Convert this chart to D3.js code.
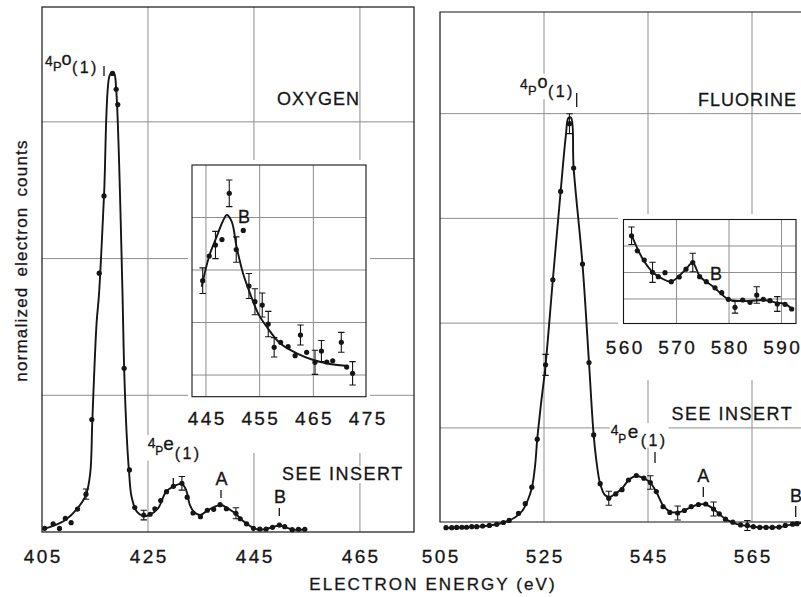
<!DOCTYPE html>
<html><head><meta charset="utf-8">
<script src="https://cdn.jsdelivr.net/npm/d3@7"></script>
<style>
body{margin:0;background:#fff}
svg{display:block}
text{font-family:"Liberation Sans",Arial,Helvetica,sans-serif;fill:#151515;stroke:#151515;stroke-width:0.3}
</style></head><body>
<svg id="chart" width="801" height="597"></svg>
<script>
// ---------------- DATA ----------------
// Oxygen main spectrum (energy eV, normalized counts in grid units)
const oxygenEnergy = [405.5,407.1,408.3,409.4,410.5,411.7,413.3,414.4,415.8,416.7,418.3,419.0,419.3,420.5,421.5,422.5,424.2,425.4,426.3,427.4,428.5,429.8,431.4,432.4,433.5,434.9,436.2,437.4,438.6,439.8,441.6,442.4,443.6,444.9,446.1,447.3,448.5,449.8,450.8,452.2,453.4,454.6];
const oxygenCounts = [0.027,0.060,0.026,0.099,0.068,0.168,0.277,0.822,1.893,2.458,3.354,3.238,3.126,1.197,0.454,0.179,0.124,0.130,0.170,0.230,0.295,0.334,0.356,0.255,0.139,0.112,0.159,0.166,0.200,0.170,0.137,0.097,0.060,0.027,0.022,0.022,0.034,0.051,0.039,0.017,0.020,0.020];
const oxygenError = [0,0,0,0,0,0,0.037,0,0,0, 0,0,0,0,0,0,0.035,0,0,0, 0,0,0.05,0,0,0,0,0,0,0, 0.04,0,0,0,0,0,0,0,0,0, 0,0];
const oxygenFitEnergy = [405.2,407.1,409.4,411.7,413.3,414.1,414.5,415.3,415.75,416.7,417.7,418.15,418.6,419.0,420.2,420.5,421.0,421.4,421.9,422.9,424.1,425.2,426.9,428.4,429.9,431.4,432.2,432.9,433.7,434.8,436.1,437.5,438.8,439.9,441.6,442.5,443.7,445.0,446.1,447.3,448.6,449.7,450.8,452.2,454.6];
const oxygenFitCounts = [0.022,0.044,0.088,0.173,0.271,0.429,0.819,1.529,1.734,2.458,3.331,3.360,3.356,3.238,1.734,1.197,0.697,0.454,0.258,0.149,0.117,0.124,0.173,0.293,0.336,0.351,0.307,0.198,0.146,0.124,0.154,0.183,0.198,0.176,0.132,0.095,0.059,0.026,0.018,0.022,0.037,0.048,0.037,0.018,0.018];

// Oxygen insert (region B, magnified)
const oxygenInsetEnergy = [444.39,445.61,446.77,447.98,449.34,450.64,451.95,453.0,454.12,455.48,456.6,457.7,458.9,460.3,461.6,462.6,463.75,465.3,466.5,467.5,468.6,470.2,471.2,472.3];
const oxygenInsetCounts = [2.796,3.267,3.476,3.579,4.461,3.389,3.754,2.695,2.396,2.333,1.971,1.528,1.623,1.539,1.368,1.762,1.432,1.242,1.457,1.248,1.272,1.623,1.152,1.032];
const oxygenInsetError = [0.244,0,0.26,0,0.253,0.242,0,0.238,0.248,0.229,0.242,0.185,0,0,0,0.19,0,0.229,0.2,0,0,0.19,0,0.223];
const oxygenInsetFitEnergy = [444.2,445.61,447.0,448.1,448.9,449.8,450.7,451.9,453.2,454.7,456.3,458.8,461.9,465.0,468.1,471.5];
const oxygenInsetFitCounts = [2.682,3.267,3.634,3.92,4.048,3.92,3.444,2.937,2.556,2.175,1.92,1.604,1.413,1.286,1.21,1.171];

// Fluorine main spectrum
const fluorineEnergy = [506.15,507.25,508.2,509.2,510.1,511.1,512.05,513.2,514.5,515.9,517.2,518.3,520.1,521.4,522.65,523.7,525.3,526.7,528.2,529.9,530.7,532.4,533.65,534.55,535.8,537.45,538.8,540.0,541.25,542.75,544.2,545.45,546.6,547.9,549.2,550.7,552.0,553.3,554.7,556.1,557.6,558.7,559.9,561.3,562.8,564.1,565.25,566.5,567.7,568.9,570.2,571.4,572.8,573.65];
const fluorineCounts = [0.048,0.048,0.050,0.052,0.052,0.057,0.057,0.064,0.069,0.080,0.097,0.117,0.185,0.277,0.434,0.893,1.602,2.414,3.257,3.904,3.48,2.564,1.624,0.933,0.468,0.329,0.370,0.411,0.503,0.546,0.520,0.479,0.392,0.248,0.193,0.188,0.212,0.248,0.269,0.274,0.226,0.179,0.129,0.100,0.074,0.069,0.057,0.050,0.050,0.050,0.054,0.069,0.081,0.086];
const fluorineError = [0,0,0,0,0,0,0,0,0,0, 0,0,0,0,0,0,0.1,0,0,0.095, 0,0,0,0,0,0.067,0,0,0,0, 0,0.064,0,0,0,0.067,0,0,0,0, 0.067,0,0,0,0,0.048,0,0,0,0, 0,0,0,0];
const fluorineFitEnergy = [506.15,510.8,514.6,517.5,519.4,520.8,521.9,522.7,523.3,523.7,524.4,525.3,526.7,528.2,529.2,529.7,530.2,530.7,532.4,533.65,534.55,535.2,535.8,536.7,537.7,538.8,540.0,541.3,542.7,544.1,545.45,546.6,547.9,549.2,550.7,552.0,553.3,554.7,556.1,557.6,558.7,559.9,561.3,562.8,565.2,568.5,570.4,572.3,574.4];
const fluorineFitCounts = [0.045,0.054,0.069,0.102,0.145,0.207,0.312,0.436,0.647,0.893,1.22,1.602,2.414,3.257,3.79,3.96,3.96,3.48,2.564,1.624,0.933,0.637,0.468,0.36,0.341,0.374,0.422,0.503,0.541,0.522,0.475,0.389,0.26,0.202,0.193,0.212,0.245,0.269,0.269,0.226,0.179,0.129,0.097,0.074,0.057,0.050,0.054,0.074,0.093];

// Fluorine insert
const fluorineInsetEnergy = [561.43,562.53,563.85,565.43,566.53,567.81,569.0,570.51,571.81,573.09,574.4,575.68,577.33,578.61,579.87,581.14,582.61,584.0,585.28,586.53,587.81,589.2,590.67,591.94];
const fluorineInsetCounts = [3.385,2.819,2.472,2.008,1.842,1.992,1.653,1.83,2.125,2.377,1.842,1.653,1.423,1.238,0.989,0.687,0.962,0.875,1.151,0.989,0.936,0.811,0.8,0.623];
const fluorineInsetError = [0.33,0,0,0.38,0,0,0,0,0,0.35,0,0,0,0,0,0.22,0,0,0.31,0,0,0.28,0,0];
const fluorineInsetFitEnergy = [561.47,563.68,565.58,567.18,568.95,570.67,571.81,573.09,574.48,577.01,579.87,582.1,584.0,586.53,589.09,590.67,592.25];
const fluorineInsetFitCounts = [3.389,2.472,1.992,1.781,1.653,1.906,2.132,2.37,1.842,1.464,0.989,0.925,0.925,0.962,0.86,0.811,0.585];

// Tick labels / grid values
const oxygenTicks = [405,425,445,465];
const fluorineTicks = [505,525,545,565];
const oxygenInsetTicks = [445,455,465,475];
const fluorineInsetTicks = [560,570,580,590];
const mainGridLevels = [1,2,3,4];
const insetGridLevels = [1,2,3,4];

const xAxisTitle = "ELECTRON ENERGY (eV)";
const yAxisTitle = "normalized electron counts";

// ---------------- DRAWING ----------------
const svg = d3.select("#chart");
const GRID = "#8e8e8e";
const INK = "#151515";

function zip(E, V, Er){ return E.map((e,i)=>({e, v:V[i], err: Er ? Er[i] : 0})); }

function grid(g, x, y, xs, ys, box){
  xs.filter(t=>x(t)>box.x0+2 && x(t)<box.x1-2).forEach(t=>{
    g.append("line").attr("x1",x(t)).attr("x2",x(t)).attr("y1",box.y0).attr("y2",box.y1)
     .attr("stroke",GRID).attr("stroke-width",1);
  });
  ys.filter(v=>y(v)>box.y0+2 && y(v)<box.y1-2).forEach(v=>{
    g.append("line").attr("y1",y(v)).attr("y2",y(v)).attr("x1",box.x0).attr("x2",box.x1)
     .attr("stroke",GRID).attr("stroke-width",1);
  });
}

function series(g, x, y, pts, r, cap){
  const eb = pts.filter(d=>d.err>0);
  g.selectAll(null).data(eb).enter().append("path")
    .attr("d", d=>{
      const cx=x(d.e), y1=y(d.v+d.err), y2=y(d.v-d.err);
      return `M${cx},${y1}V${y2}M${cx-cap},${y1}H${cx+cap}M${cx-cap},${y2}H${cx+cap}`;
    })
    .attr("stroke",INK).attr("stroke-width",1.1).attr("fill","none");
  g.selectAll(null).data(pts).enter().append("circle")
    .attr("cx",d=>x(d.e)).attr("cy",d=>y(d.v)).attr("r",r).attr("fill",INK);
}

function fit(g, x, y, pts, w){
  const line = d3.line().x(d=>x(d.e)).y(d=>y(d.v)).curve(d3.curveCatmullRom.alpha(0.5));
  g.append("path").attr("d",line(pts)).attr("fill","none").attr("stroke",INK)
   .attr("stroke-width",w).attr("stroke-linejoin","round");
}

function tickLabels(g, x, ticks, baseline){
  g.selectAll(null).data(ticks).enter().append("text")
   .attr("x",d=>x(d)+1.2).attr("y",baseline).attr("text-anchor","middle")
   .attr("font-size",19).attr("letter-spacing",2.4).text(d=>d);
}

function backdrop(g, t, pad){
  const b = t.node().getBBox();
  g.insert("rect", function(){ return t.node(); })
   .attr("x",b.x-pad).attr("y",b.y+2).attr("width",b.width+2*pad).attr("height",b.height-3)
   .attr("fill","#fff");
}

function label(g, txt, x, yb, size, ls, anchor, bg){
  const t = g.append("text").attr("x",x).attr("y",yb).attr("font-size",size)
    .attr("letter-spacing",ls).attr("text-anchor",anchor||"start").text(txt);
  if(bg) backdrop(g, t, 2);
  return t;
}

function marker(g, x, y1, y2){
  g.append("line").attr("x1",x).attr("x2",x).attr("y1",y1).attr("y2",y2)
   .attr("stroke",INK).attr("stroke-width",1.3);
}

// term label like  4P°(1)  or 4Pe(1)
function term(g, x0, yb, sup, o){
  const t = g.append("text");
  t.append("tspan").attr("x",x0).attr("y",yb+o.d4).attr("font-size",14).text("4");
  t.append("tspan").attr("x",x0+o.xp).attr("y",yb).attr("font-size",o.sp).text("P");
  t.append("tspan").attr("x",x0+o.xs).attr("y",yb+o.ds).attr("font-size",o.ss).text(sup);
  t.append("tspan").attr("x",x0+o.x1).attr("y",yb+o.d1).attr("font-size",16)
    .attr("letter-spacing",2.4).text("(1)");
  backdrop(g, t, 1);
}

// ---------- PANELS ----------
const oxBox = {x0:42, x1:414, y0:7, y1:532};
const xO = d3.scaleLinear().domain([405, 475.2]).range([oxBox.x0, oxBox.x1]);
const yO = d3.scaleLinear().domain([0, 3.84]).range([oxBox.y1, oxBox.y0]);
const fBox = {x0:440, x1:801, y0:12, y1:522};
const xF = d3.scaleLinear().domain([505, 574.42]).range([fBox.x0, fBox.x1]);
const yF = d3.scaleLinear().domain([0.102, 4.97]).range([fBox.y1, fBox.y0]);

const gGrid = svg.append("g");
grid(gGrid, xO, yO, oxygenTicks, mainGridLevels, oxBox);
grid(gGrid, xF, yF, fluorineTicks, mainGridLevels, fBox);

// white areas under inserts (incl. their tick labels)
gGrid.append("rect").attr("x",188).attr("y",160).attr("width",182).attr("height",293).attr("fill","#fff");
gGrid.append("rect").attr("x",618).attr("y",214).attr("width",183).attr("height",166).attr("fill","#fff");

const gO = svg.append("g");
const gF = svg.append("g");
gO.append("rect").attr("x",oxBox.x0).attr("y",oxBox.y0).attr("width",oxBox.x1-oxBox.x0)
  .attr("height",oxBox.y1-oxBox.y0).attr("fill","none").attr("stroke",INK).attr("stroke-width",1.2);
gF.append("path").attr("d",`M${fBox.x1},${fBox.y0}H${fBox.x0}V${fBox.y1}H${fBox.x1}`)
  .attr("fill","none").attr("stroke",INK).attr("stroke-width",1.2);

// ---------- OXYGEN INSET ----------
const oiBox = {x0:192, x1:366, y0:165, y1:396.7};
const xOI = d3.scaleLinear().domain([442.4, 474.8]).range([oiBox.x0, oiBox.x1]);
const yOI = d3.scaleLinear().domain([0.587, 5]).range([oiBox.y1, oiBox.y0]);
const gOI = svg.append("g");
grid(gOI, xOI, yOI, oxygenInsetTicks, insetGridLevels, oiBox);
gOI.append("rect").attr("x",oiBox.x0).attr("y",oiBox.y0).attr("width",oiBox.x1-oiBox.x0)
  .attr("height",oiBox.y1-oiBox.y0).attr("fill","none").attr("stroke",INK).attr("stroke-width",1.1);
fit(gOI, xOI, yOI, zip(oxygenInsetFitEnergy, oxygenInsetFitCounts), 1.9);
series(gOI, xOI, yOI, zip(oxygenInsetEnergy, oxygenInsetCounts, oxygenInsetError), 2.6, 3.2);
tickLabels(gOI, xOI, oxygenInsetTicks, 425);
label(gOI, "B", 238, 223, 18, 0);

// ---------- FLUORINE INSET ----------
const fiBox = {x0:623.5, x1:796, y0:219.5, y1:323.5};
const xFI = d3.scaleLinear().domain([559.9, 592.76]).range([fiBox.x0, fiBox.x1]);
const yFI = d3.scaleLinear().domain([0.075, 4]).range([fiBox.y1, fiBox.y0]);
const gFI = svg.append("g");
grid(gFI, xFI, yFI, fluorineInsetTicks, insetGridLevels, fiBox);
gFI.append("rect").attr("x",fiBox.x0).attr("y",fiBox.y0).attr("width",fiBox.x1-fiBox.x0)
  .attr("height",fiBox.y1-fiBox.y0).attr("fill","none").attr("stroke",INK).attr("stroke-width",1.1);
fit(gFI, xFI, yFI, zip(fluorineInsetFitEnergy, fluorineInsetFitCounts), 1.9);
series(gFI, xFI, yFI, zip(fluorineInsetEnergy, fluorineInsetCounts, fluorineInsetError), 2.6, 3.2);
tickLabels(gFI, xFI, fluorineInsetTicks, 354);
label(gFI, "B", 710, 280, 18, 0);

// ---------- MAIN DATA ----------
fit(gO, xO, yO, zip(oxygenFitEnergy, oxygenFitCounts), 1.9);
series(gO, xO, yO, zip(oxygenEnergy, oxygenCounts, oxygenError), 2.6, 3.2);
fit(gF, xF, yF, zip(fluorineFitEnergy, fluorineFitCounts), 1.9);
series(gF, xF, yF, zip(fluorineEnergy, fluorineCounts, fluorineError), 2.6, 3.2);

tickLabels(gO, xO, oxygenTicks, 563);
tickLabels(gF, xF, fluorineTicks, 563);

// ---------- ANNOTATIONS (top layer) ----------
const gA = svg.append("g");
label(gA, "OXYGEN", 277, 105, 18, 1);
label(gA, "FLUORINE", 698, 106, 18, 1);
label(gA, "SEE INSERT", 282, 480, 18, 1.5, "start", true);
label(gA, "SEE INSERT", 671.5, 420, 18, 1.5, "start", false);

term(gA, 45, 70.7, "o", {d4:-4.5, xp:8, sp:13, xs:16.5, ds:-5.8, ss:18, x1:27, d1:2.6});
marker(gA, 104, 66, 76);
term(gA, 520, 95, "o", {d4:-6.5, xp:8, sp:13, xs:17.5, ds:-7.5, ss:18, x1:28, d1:2.2});
marker(gA, 576.7, 93, 107);

term(gA, 147.7, 455, "e", {d4:-7, xp:7.5, sp:12, xs:15.5, ds:-5, ss:19, x1:27, d1:3.5});
marker(gA, 173.3, 478, 487);
term(gA, 610.7, 443, "e", {d4:-8.5, xp:7.5, sp:12, xs:17, ds:-5, ss:19, x1:30, d1:2.5});
marker(gA, 655, 452, 463);

label(gA, "A", 221.5, 485, 18, 0, "middle");
marker(gA, 221, 490, 498);
label(gA, "B", 280, 503, 18, 0, "middle");
marker(gA, 279.3, 508, 516);
label(gA, "A", 703.3, 481.7, 18, 0, "middle");
marker(gA, 703.3, 487, 497);
label(gA, "B", 796, 501.7, 18, 0, "middle");
marker(gA, 795.7, 506, 517);

// axis titles
gA.append("text").attr("x",433).attr("y",590).attr("text-anchor","middle")
  .attr("font-size",17).attr("letter-spacing",2.1).text(xAxisTitle);
gA.append("text").attr("transform","translate(27,260.5) rotate(-90)").attr("text-anchor","middle")
  .attr("font-size",17).attr("letter-spacing",1.2).attr("word-spacing",4).text(yAxisTitle);
</script>
</body></html>
